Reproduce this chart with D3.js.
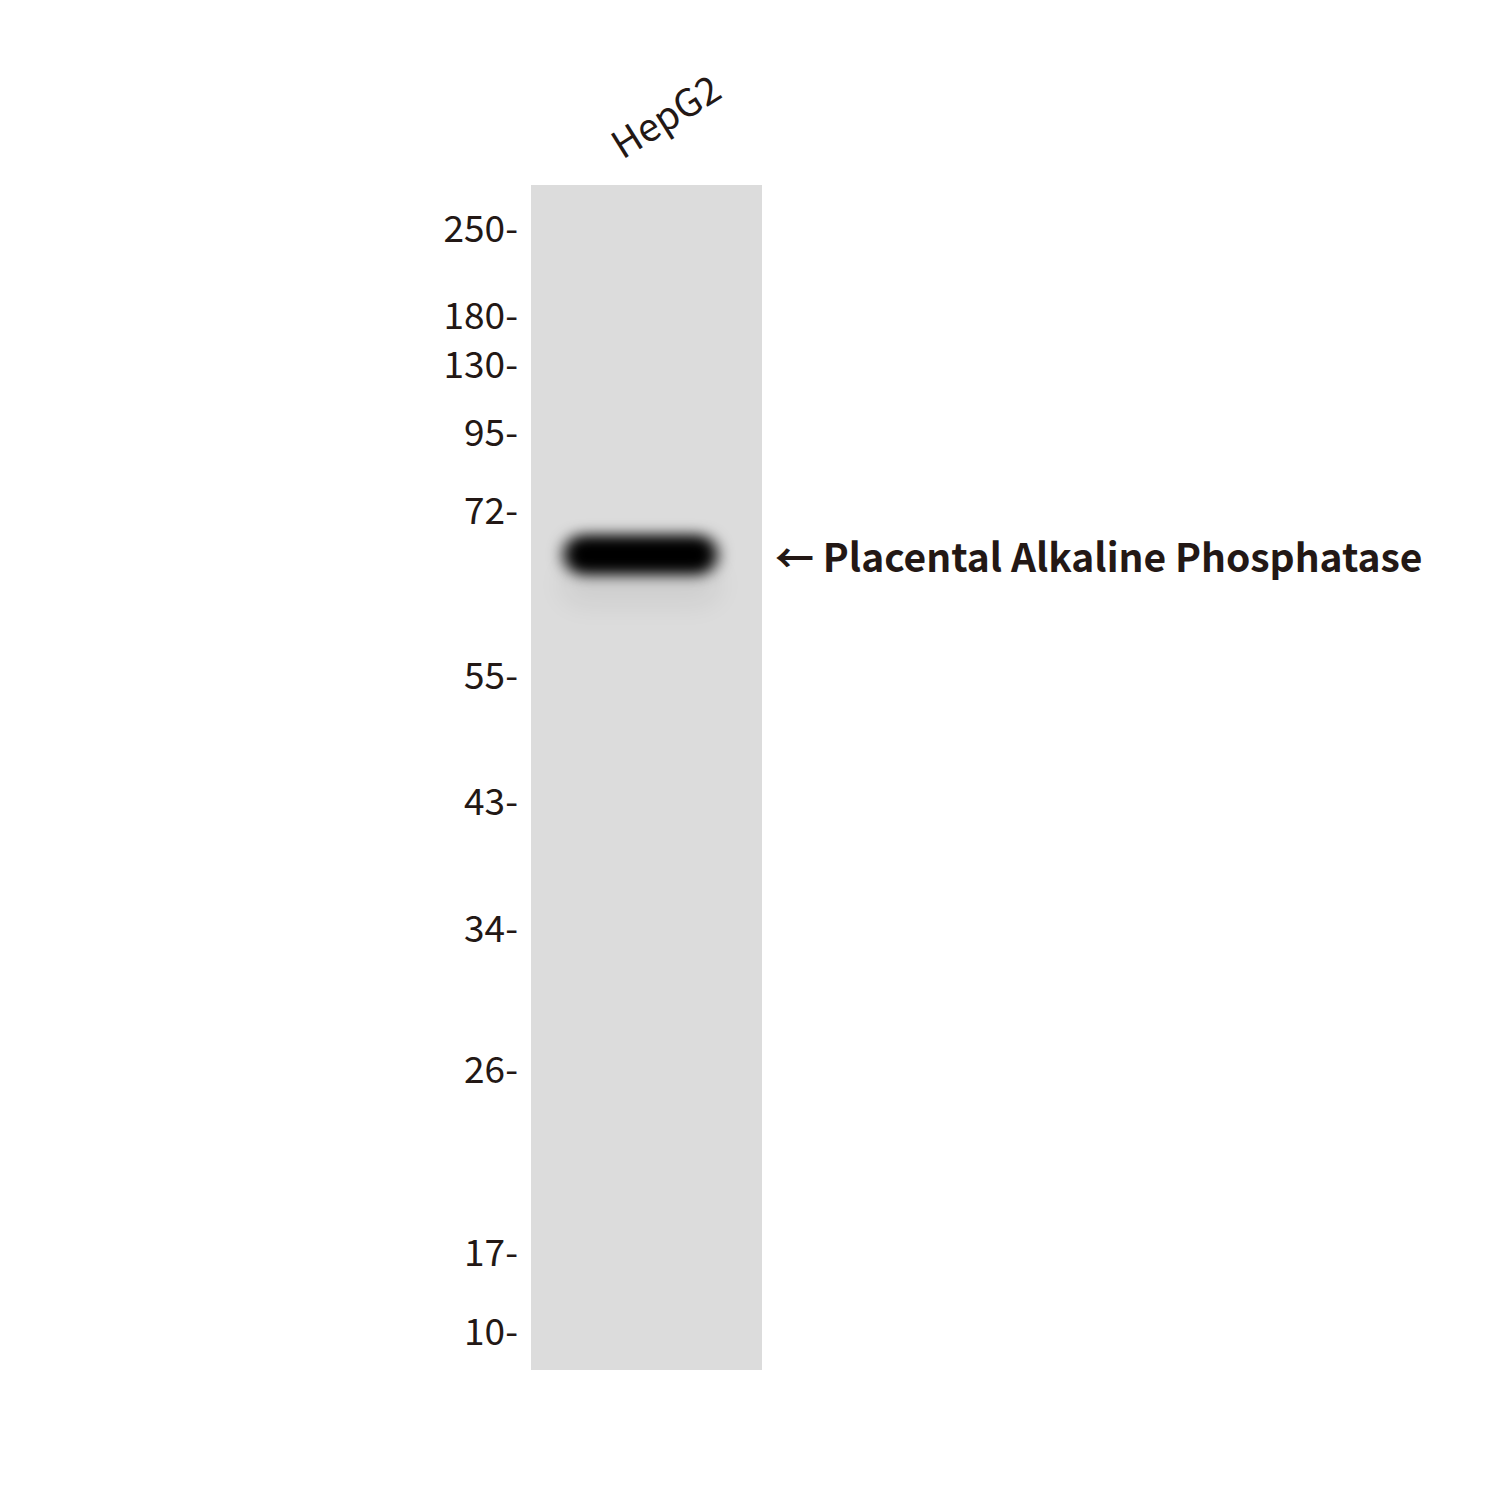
<!DOCTYPE html>
<html><head><meta charset="utf-8">
<script src="https://cdn.jsdelivr.net/npm/d3@7"></script>
<style>body{margin:0;background:#fff}</style></head>
<body><svg id="c" width="1500" height="1500"></svg>
<script>
const markers = [250,180,130,95,72,55,43,34,26,17,10];
const markerLabels = ["250-","180-","130-","95-","72-","55-","43-","34-","26-","17-","10-"];
const lanes = ["HepG2"];
const bands = [{lane:"HepG2", kDa:67.5, intensity:1}];
const targetLabel = "← Placental Alkaline Phosphatase";

const svg = d3.select("#c");
const y = d3.scaleLinear().domain(markers)
  .range([229,316,365,433,511,676,802,929,1070,1253,1332]);
const x = d3.scaleBand().domain(lanes).range([531,762]);
const font = "'Noto Sans CJK SC','Noto Sans',sans-serif";
const col = "#231815";

const defs = svg.append("defs");
const f = defs.append("filter").attr("id","blur").attr("x","-30%").attr("y","-100%").attr("width","160%").attr("height","300%");
f.append("feGaussianBlur").attr("stdDeviation","8 7");
const f2 = defs.append("filter").attr("id","blur2").attr("x","-30%").attr("y","-100%").attr("width","160%").attr("height","300%");
f2.append("feGaussianBlur").attr("stdDeviation","14 14");

svg.append("rect").attr("x",531).attr("y",185).attr("width",231).attr("height",1185).attr("fill","#dcdcdc");

svg.selectAll("text.m").data(markers).enter().append("text")
  .attr("x",518).attr("y",d=>y(d)).attr("dy","0.34em").attr("text-anchor","end")
  .attr("font-family",font).attr("font-size",37).attr("fill",col)
  .text((d,i)=>markerLabels[i]);

svg.selectAll("text.l").data(lanes).enter().append("text")
  .attr("transform",d=>`translate(${x(d)+x.bandwidth()/2-24},160) rotate(-32)`)
  .attr("font-family",font).attr("font-size",38).attr("fill",col).text(d=>d);

bands.forEach(b=>{
  const cx = x(b.lane)+x.bandwidth()/2-6, cy=y(b.kDa);
  svg.append("rect").attr("x",cx-80).attr("y",cy+10).attr("width",160).attr("height",40)
    .attr("rx",20).attr("fill","#000").attr("opacity",0.06).attr("filter","url(#blur2)");
  svg.append("rect").attr("x",cx-77).attr("y",cy-20).attr("width",154).attr("height",40)
    .attr("rx",20).attr("fill","#000").attr("opacity",b.intensity).attr("filter","url(#blur)");
  svg.append("text").attr("x",775).attr("y",cy+3).attr("dy","0.36em")
    .attr("font-family",font).attr("font-weight","bold").attr("font-size",39).attr("fill",col)
    .text(targetLabel);
});
</script></body></html>
